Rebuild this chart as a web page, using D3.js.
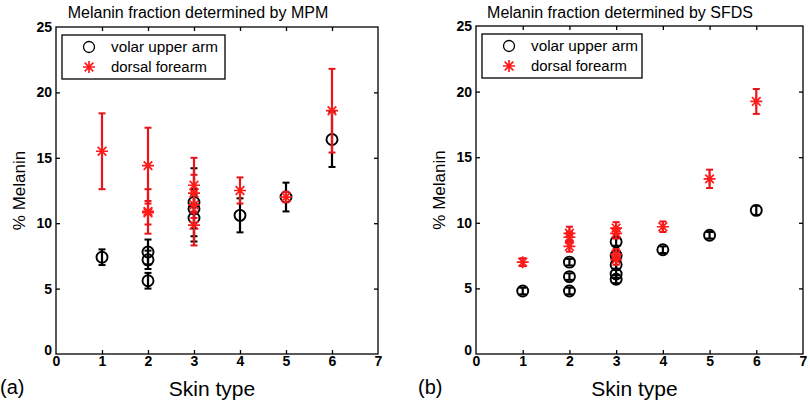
<!DOCTYPE html>
<html><head><meta charset="utf-8">
<script src="https://cdn.jsdelivr.net/npm/d3@7"></script>
<style>body{margin:0;background:#fff;} svg{display:block;}</style>
</head><body>
<svg id="c" width="810" height="405"></svg>
<script>
// Data: [skin type, % melanin, error]
const mpmVolar = [[1,7.4,0.6],[2,7.8,0.95],[2,7.2,0.7],[2,5.6,0.6],[3,11.6,2.6],[3,11.1,1.5],[3,10.4,1.8],[4,10.6,1.3],[5,12.0,1.1],[6,16.4,2.1]];
const mpmDorsal = [[1,15.5,2.9],[2,14.4,2.9],[2,10.9,1.7],[2,10.8,0.9],[3,12.9,2.1],[3,12.3,1.4],[3,11.4,1.0],[3,9.85,1.55],[4,12.5,1.0],[5,12.0,0.4],[6,18.6,3.2]];
const sfdsVolar = [[1,4.8,0.25],[2,7.0,0.25],[2,5.9,0.25],[2,4.8,0.25],[3,8.55,0.3],[3,7.5,0.3],[3,6.8,0.3],[3,6.1,0.3],[3,5.7,0.3],[4,7.95,0.25],[5,9.05,0.25],[6,10.95,0.35]];
const sfdsDorsal = [[1,7.0,0.3],[2,9.2,0.5],[2,8.9,0.4],[2,8.2,0.4],[3,9.6,0.45],[3,9.2,0.4],[3,7.6,0.4],[3,7.2,0.4],[4,9.7,0.4],[5,13.35,0.7],[6,19.25,0.95]];
const xTicks = [0,1,2,3,4,5,6,7];
const yTicks = [0,5,10,15,20,25];
const titles = ["Melanin fraction determined by MPM","Melanin fraction determined by SFDS"];
const legendLabels = ["volar  upper arm","dorsal  forearm"];
const panelLabels = ["(a)","(b)"];

const svg = d3.select("#c");
const font = "Liberation Sans, Arial, sans-serif";

const panels = [
  {x0:56, x1:378, y0:354, y1:27, volar:mpmVolar, dorsal:mpmDorsal, title:titles[0], titleX:198, ylabX:19, tag:panelLabels[0], tagX:0, leg:{x:62,y:35,w:163,h:44}},
  {x0:476, x1:803, y0:354, y1:26, volar:sfdsVolar, dorsal:sfdsDorsal, title:titles[1], titleX:620, ylabX:439, tag:panelLabels[1], tagX:418, leg:{x:482,y:34,w:160,h:44}}
];

function star(g, cx, cy, r, color) {
  const p = d3.path();
  p.moveTo(cx - r, cy); p.lineTo(cx + r, cy);
  p.moveTo(cx, cy - r); p.lineTo(cx, cy + r);
  const d = r * 0.72;
  p.moveTo(cx - d, cy - d); p.lineTo(cx + d, cy + d);
  p.moveTo(cx - d, cy + d); p.lineTo(cx + d, cy - d);
  g.append("path").attr("d", p.toString()).attr("stroke", color).attr("stroke-width", 1.7).attr("fill", "none");
}

panels.forEach(P => {
  const x = d3.scaleLinear().domain([0,7]).range([P.x0, P.x1]);
  const y = d3.scaleLinear().domain([0,25]).range([P.y0, P.y1]);
  const g = svg.append("g");

  g.append("rect").attr("x", P.x0).attr("y", P.y1).attr("width", P.x1 - P.x0).attr("height", P.y0 - P.y1)
    .attr("fill", "none").attr("stroke", "#000").attr("stroke-width", 1.3);

  const ax = g.append("g").attr("transform", `translate(0,${P.y0})`)
    .call(d3.axisBottom(x).tickValues(xTicks).tickSize(-4).tickPadding(4).tickFormat(d3.format("d")));
  const axT = g.append("g").attr("transform", `translate(0,${P.y1})`)
    .call(d3.axisTop(x).tickValues(xTicks).tickSize(-4).tickFormat(""));
  const ay = g.append("g").attr("transform", `translate(${P.x0},0)`)
    .call(d3.axisLeft(y).tickValues(yTicks).tickSize(-4).tickPadding(4).tickFormat(d3.format("d")));
  const ayR = g.append("g").attr("transform", `translate(${P.x1},0)`)
    .call(d3.axisRight(y).tickValues(yTicks).tickSize(-4).tickFormat(""));
  [ax, axT, ay, ayR].forEach(a => {
    a.select(".domain").remove();
    a.selectAll("line").attr("stroke", "#000").attr("stroke-width", 1.3);
    a.selectAll("text").attr("font-family", font).attr("font-weight", "bold").attr("font-size", 14).attr("fill", "#000");
  });
  ax.selectAll("text").attr("dy", "0.6em");
  ax.selectAll(".tick line").filter(d => d === 0 || d === 7).remove();
  axT.selectAll(".tick line").filter(d => d === 0 || d === 7).remove();
  ay.selectAll(".tick line").filter(d => d === 0 || d === 25).remove();
  ayR.selectAll(".tick line").filter(d => d === 0 || d === 25).remove();
  ay.selectAll(".tick").filter(d => d === 0).select("text").attr("dy", "0.05em");

  const eb = (data, color) => {
    data.forEach(([sx, v, e]) => {
      const cx = x(sx);
      g.append("line").attr("x1", cx).attr("x2", cx).attr("y1", y(v - e)).attr("y2", y(v + e))
        .attr("stroke", color).attr("stroke-width", 2.2);
      [v - e, v + e].forEach(t => g.append("line").attr("x1", cx - 3.5).attr("x2", cx + 3.5)
        .attr("y1", y(t)).attr("y2", y(t)).attr("stroke", color).attr("stroke-width", 2));
    });
  };
  eb(P.volar, "#000");
  P.volar.forEach(([sx, v]) => {
    g.append("circle").attr("cx", x(sx)).attr("cy", y(v)).attr("r", 5.5)
      .attr("fill", "none").attr("stroke", "#000").attr("stroke-width", 1.9);
  });
  eb(P.dorsal, "#e8141b");
  P.dorsal.forEach(([sx, v]) => star(g, x(sx), y(v), 6, "#ff1a1a"));

  const L = P.leg;
  g.append("rect").attr("x", L.x).attr("y", L.y).attr("width", L.w).attr("height", L.h)
    .attr("fill", "#fff").attr("stroke", "#000").attr("stroke-width", 1.3);
  g.append("circle").attr("cx", L.x + 27).attr("cy", L.y + 12).attr("r", 5.5)
    .attr("fill", "none").attr("stroke", "#000").attr("stroke-width", 1.3);
  star(g, L.x + 27, L.y + 32, 6, "#ff1a1a");
  legendLabels.forEach((t, i) => {
    g.append("text").attr("x", L.x + 49).attr("y", L.y + 12 + i * 20).attr("dy", "0.35em")
      .attr("font-family", font).attr("font-size", 14).attr("textLength", i === 0 ? 107 : 96)
      .attr("lengthAdjust", "spacingAndGlyphs").attr("fill", "#000").text(t);
  });

  g.append("text").attr("x", P.titleX).attr("y", 18).attr("text-anchor", "middle")
    .attr("font-family", font).attr("font-size", 16).attr("fill", "#000").text(P.title);
  g.append("text").attr("transform", `translate(${P.ylabX},${(P.y0 + P.y1) / 2}) rotate(-90)`)
    .attr("text-anchor", "middle").attr("dy", "0.35em")
    .attr("font-family", font).attr("font-size", 17).attr("fill", "#000").text("% Melanin");
  g.append("text").attr("x", (P.x0 + P.x1) / 2 - 5).attr("y", 396).attr("text-anchor", "middle")
    .attr("font-family", font).attr("font-size", 21).attr("fill", "#000").text("Skin type");
  g.append("text").attr("x", P.tagX).attr("y", 394)
    .attr("font-family", font).attr("font-size", 20).attr("fill", "#000").text(P.tag);
});
</script>
</body></html>
